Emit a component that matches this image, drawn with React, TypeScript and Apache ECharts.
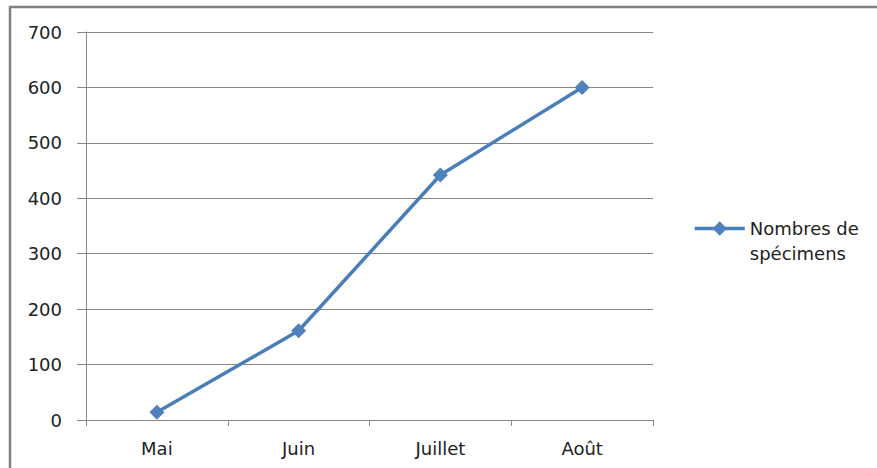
import React, { useEffect, useRef } from "react";
import * as echarts from "echarts";

const categories = ["Mai", "Juin", "Juillet", "Août"];
const specimens = [14, 161, 442, 600];
const seriesName = "Nombres de spécimens";
const yTicks = { min: 0, max: 700, interval: 100 };

export default function App() {
  const ref = useRef<HTMLDivElement>(null);
  useEffect(() => {
    if (!ref.current) return;
    const chart = echarts.init(ref.current, undefined, { renderer: "svg" });
    const font = "DejaVu Sans";
    chart.setOption({
      animation: false,
      backgroundColor: "#ffffff",
      graphic: [
        {
          type: "rect",
          shape: { x: 10, y: 7, width: 900, height: 500 },
          style: { fill: "none", stroke: "#808080", lineWidth: 2.5 },
          silent: true,
        },
      ],
      grid: { left: 86, top: 32, right: 224, bottom: 48 },
      legend: {
        left: 688,
        top: 186,
        itemWidth: 50,
        itemHeight: 18,
        itemGap: 0,
        data: [{ name: seriesName }],
        lineStyle: { width: 3.5 },
        formatter: () => "\nNombres de\nspécimens",
        textStyle: {
          fontFamily: font,
          fontSize: 18,
          color: "#222",
          lineHeight: 25,
        },
      },
      xAxis: {
        type: "category",
        data: categories,
        boundaryGap: true,
        axisLine: { lineStyle: { color: "#868686", width: 1 } },
        axisTick: { show: true, length: 6, lineStyle: { color: "#868686" }, alignWithLabel: false },
        axisLabel: { fontFamily: font, fontSize: 18, color: "#222", margin: 19 },
      },
      yAxis: {
        type: "value",
        min: yTicks.min,
        max: yTicks.max,
        interval: yTicks.interval,
        axisLine: { show: true, lineStyle: { color: "#868686", width: 1 } },
        axisTick: { show: true, length: 9, lineStyle: { color: "#868686" } },
        splitLine: { show: true, lineStyle: { color: "#868686", width: 1 } },
        axisLabel: { fontFamily: font, fontSize: 18, color: "#222", margin: 24 },
      },
      series: [
        {
          name: seriesName,
          type: "line",
          data: specimens,
          symbol: "diamond",
          symbolSize: 15,
          lineStyle: { color: "#4A7EBB", width: 3.5 },
          itemStyle: { color: "#4F81BD" },
        },
      ],
    });
    return () => chart.dispose();
  }, []);
  return (
    <div
      ref={ref}
      style={{ position: "fixed", left: 0, top: 0, width: 877, height: 468 }}
    />
  );
}
